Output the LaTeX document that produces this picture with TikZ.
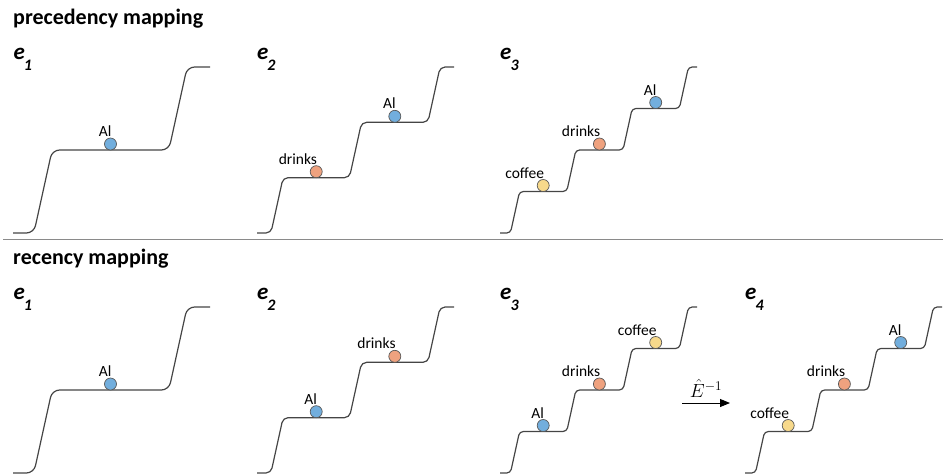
\RequirePackage{fix-cm}
\documentclass[tikz,border=0pt]{standalone}
\usepackage{amsmath}
\usepackage{xcolor}
\usepackage{fontspec}
\setmainfont{Carlito}
\usepackage{tikz}
\usetikzlibrary{arrows.meta, positioning, calc}

\definecolor{alblue}{HTML}{72AEDD}
\definecolor{drinkorange}{HTML}{EFA27F}
\definecolor{coffeeyellow}{HTML}{F7D98B}
\definecolor{stairgray}{HTML}{454545}
\definecolor{rulegray}{HTML}{8A8A8A}

% staircase: x0, bottom y, number of rises, margin, spacing
\newcommand\stairs[5]{%
  \pgfmathsetmacro\sh{166/#3}%
  \pgfmathsetmacro\sd{0.11*\sh}%
  \pgfmathsetmacro\sr{0.09*\sh}%
  \draw[stair, rounded corners=\sr pt] (#1,#2)
    \foreach \k in {1,...,#3}{
      -- ({#1+#4+(\k-1)*#5-\sd},{#2-(\k-1)*\sh})
      -- ({#1+#4+(\k-1)*#5+\sd},{#2-\k*\sh})
    } -- ({#1+197},{#2-166});
}
% ball with its word above: name, x, y, colour, word
\newcommand\ball[5]{%
  \node[ball, fill=#4] (#1) at (#2,#3) {};
  \node[lbl] (#1-t) at ($(#1.north)+(1,-1.5)$) {#5};
}
\newcommand\esub[1]{\kern-1pt\raisebox{-11.5pt}{\fontsize{16}{16}\selectfont #1}}

\begin{document}
\begin{tikzpicture}[
        x=1pt, y=-1pt,
        title/.style={font=\fontsize{22}{26}\selectfont\bfseries, inner sep=0, anchor=base west},
        elbl/.style={font=\fontsize{23}{26}\selectfont\bfseries\itshape, inner sep=0, anchor=base west},
        stair/.style={draw=stairgray, line width=1.2pt},
        ball/.style={circle, draw=black!65, line width=0.7pt, minimum size=12pt, inner sep=0, outer sep=0},
        lbl/.style={font=\fontsize{15.5}{18}\selectfont, inner sep=0, anchor=base east},
        sep/.style={draw=rulegray, line width=1.2pt},
        link/.style={-{Triangle[length=10pt, width=8pt]}, line width=0.9pt}
    ]
    \useasboundingbox (0,0) rectangle (943,475);

    % Titles
    \node[title] (prec) at (13,24.5) {precedency mapping};
    \node[title] (rec) at (13,264) {recency mapping};

    % Episode labels
    \node[elbl] (pe1) at (13.5,59) {e\esub{1}};
    \node[elbl] (pe2) at (257,59) {e\esub{2}};
    \node[elbl] (pe3) at (500,59) {e\esub{3}};
    \node[elbl] (re1) at (13.5,299) {e\esub{1}};
    \node[elbl] (re2) at (257,299) {e\esub{2}};
    \node[elbl] (re3) at (500,299) {e\esub{3}};
    \node[elbl] (re4) at (745,299) {e\esub{4}};

    % Separator
    \coordinate (sepL) at (3,239.5);
    \coordinate (sepR) at (943,239.5);
    \draw[sep] (sepL) -- (sepR);

    % Precedency row
    \stairs{13}{233}{2}{30}{135}
    \stairs{257}{233}{3}{20}{78.5}
    \stairs{500}{233}{4}{15}{56.3}
    \ball{pal1}{110.5}{144}{alblue}{Al}
    \ball{pdr2}{316.2}{171.7}{drinkorange}{drinks}
    \ball{pal2}{394.8}{116.3}{alblue}{Al}
    \ball{pco3}{543.2}{185.5}{coffeeyellow}{coffee}
    \ball{pdr3}{599.4}{144}{drinkorange}{drinks}
    \ball{pal3}{655.7}{102.5}{alblue}{Al}

    % Recency row
    \stairs{13}{473}{2}{30}{135}
    \stairs{257}{473}{3}{20}{78.5}
    \stairs{500}{473}{4}{15}{56.3}
    \stairs{745}{473}{4}{15}{56.3}
    \ball{ral1}{110.5}{384}{alblue}{Al}
    \ball{ral2}{316.2}{411.7}{alblue}{Al}
    \ball{rdr2}{394.8}{356.3}{drinkorange}{drinks}
    \ball{ral3}{543.2}{425.5}{alblue}{Al}
    \ball{rdr3}{599.4}{384}{drinkorange}{drinks}
    \ball{rco3}{655.7}{342.5}{coffeeyellow}{coffee}
    \ball{rco4}{788.2}{425.5}{coffeeyellow}{coffee}
    \ball{rdr4}{844.4}{384}{drinkorange}{drinks}
    \ball{ral4}{900.7}{342.5}{alblue}{Al}

    % Inverse mapping arrow
    \coordinate (invS) at (682,403);
    \coordinate (invE) at (730,403);
    \draw[link] (invS) -- node[above=5pt, inner sep=0, font=\fontsize{19}{22}\selectfont] (inv) {$\hat{E}^{-1}$} (invE);
\end{tikzpicture}
\end{document}
